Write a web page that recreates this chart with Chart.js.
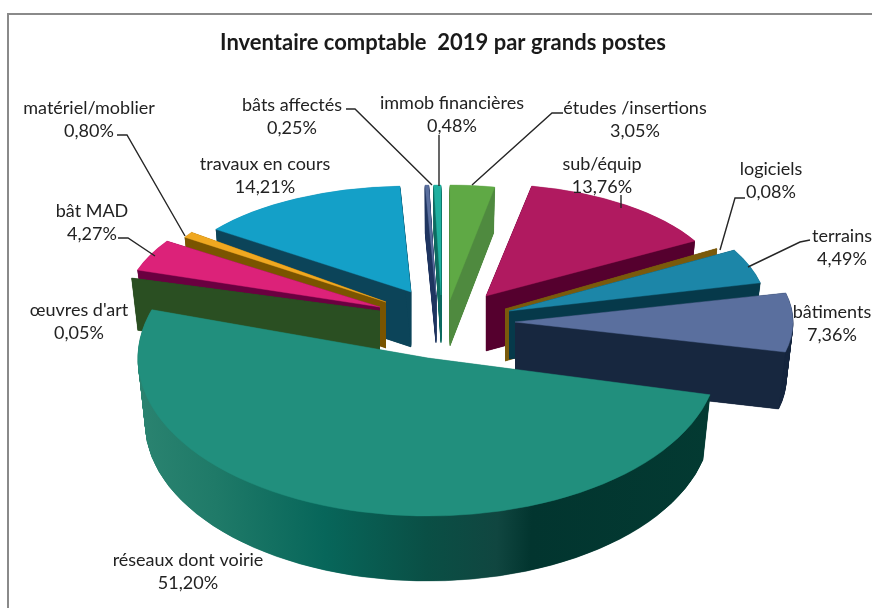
<!DOCTYPE html>
<html lang="fr">
<head>
<meta charset="utf-8">
<title>Inventaire comptable 2019</title>
<script src="https://cdn.jsdelivr.net/npm/chart.js@4"></script>
<style>
  html, body { margin: 0; padding: 0; background: #fff; overflow: hidden; }
  #frame { position: absolute; left: 7px; top: 13px; width: 865px; height: 595px; border-left: 2px solid #8a8a8a; border-top: 2px solid #8a8a8a; box-sizing: border-box; }
  #chart { position: absolute; left: 0; top: 0; }
</style>
</head>
<body>
<div id="frame"></div>
<canvas id="chart" width="872" height="608"></canvas>
<script>
const categories = ['études /insertions', 'sub/équip', 'logiciels', 'terrains', 'bâtiments', 'réseaux dont voirie',
  "œuvres d'art", 'bât MAD', 'matériel/moblier', 'travaux en cours', 'bâts affectés', 'immob financières'];
const shares = [3.05, 13.76, 0.08, 4.49, 7.36, 51.20, 0.05, 4.27, 0.80, 14.21, 0.25, 0.48];

const topColors = ['#5fa945', '#b01a60', '#7a5a0c', '#1c86a8', '#5a6f9e', '#218f7d',
  '#2a4f22', '#dc2279', '#f0a820', '#14a0c8', '#5a6f9e', '#20b0a0'];
const wallColors = ['#4f8a3f', '#55002e', '#7a5a0c', '#06394a', '#17273f', null,
  '#2a4f22', '#6a0040', '#7a5400', '#0c4459', '#1f3560', '#0e6a60'];

// where each exploded slice ends up: apex x/y, radius x/y and thickness
const sliceLayout = [
  [450, 300, 235, 115, 46],
  [486, 296, 240, 112, 55],
  [505, 309, 243, 123, 52],
  [509, 311, 258, 125, 48],
  [515, 322, 278, 129, 57],
  [428, 358, 290, 158, 65],
  [380, 311, 261, 107, 52],
  [380, 307, 255, 120, 44],
  [386, 302, 241, 118, 46],
  [411, 292, 242, 106, 55],
  [436, 295, 240, 110, 48],
  [441, 295, 240, 110, 48],
];
// painter's order, back to front
const drawOrder = [9, 10, 11, 0, 1, 2, 8, 7, 6, 3, 4, 5];
// the bottom of each slice is this much narrower than the top
const taper = 0.025;

// text centres and leader lines
const labelCenters = [[635, 108], [602, 164], [771, 169], [842, 236], [832, 312], [188, 560],
  [79, 310], [92, 211], [89, 108], [265, 164], [292, 105], [452, 103]];
const leaders = [
  [[563, 113], [552, 113], [472, 185]],
  [[621, 195], [621, 208]],
  [[745, 198], [735, 198], [720, 250]],
  [[810, 240], [800, 242], [748, 267]],
  null, null, null,
  [[118, 238], [128, 238], [155, 256]],
  [[117, 135], [127, 135], [185, 236]],
  null,
  [[346, 109], [355, 109], [432, 185]],
  [[439, 135], [439, 186]],
];

function arcOptions(color) {
  return {
    backgroundColor: color, borderColor: color, borderWidth: 0.6, borderAlign: 'center',
    borderJoinStyle: 'bevel', borderRadius: 0, borderDash: [], borderDashOffset: 0,
    offset: 0, spacing: 0, circular: true,
  };
}

// flat side of a slice, from the apex out along one of the arc's own angles
function radialWall(ctx, angle, layout, color) {
  const [cx, cy, rx, ry, depth] = layout;
  const ex = Math.cos(angle);
  const ey = Math.sin(angle);
  ctx.fillStyle = color;
  ctx.beginPath();
  ctx.moveTo(cx, cy);
  ctx.lineTo(cx + ex * rx, cy + ey * ry);
  ctx.lineTo(cx + ex * rx * (1 - taper), cy + ey * ry + depth);
  ctx.lineTo(cx, cy + depth);
  ctx.closePath();
  ctx.fill();
}

const pie3d = {
  id: 'pie3d',
  beforeDatasetsDraw(chart) {
    const ctx = chart.ctx;
    const arcs = chart.getDatasetMeta(0).data;
    drawOrder.forEach((i) => {
      const arc = arcs[i];
      const [cx, cy, rx, ry, depth] = sliceLayout[i];
      const R = arc.outerRadius;
      const place = (dy) => {
        ctx.translate(cx, cy + dy);
        ctx.scale((rx / R) * (1 - taper * dy / depth), ry / R);
        ctx.translate(-arc.x, -arc.y);
      };
      let wall = wallColors[i];
      if (!wall) {
        wall = ctx.createLinearGradient(arc.x - R, 0, arc.x + R, 0);
        wall.addColorStop(0, '#2a8370');
        wall.addColorStop(0.13, '#1f7a68');
        wall.addColorStop(0.32, '#07665a');
        wall.addColorStop(0.5, '#0a4f45');
        wall.addColorStop(0.62, '#104640');
        wall.addColorStop(0.68, '#02352f');
        wall.addColorStop(1, '#033a32');
      }
      const saved = arc.options;
      arc.options = arcOptions(wall);
      for (let k = depth; k > 0; k -= 0.5) {
        ctx.save();
        place(k);
        arc.draw(ctx);
        ctx.restore();
      }
      if (wallColors[i]) {
        radialWall(ctx, arc.startAngle, sliceLayout[i], wall);
        radialWall(ctx, arc.endAngle, sliceLayout[i], wall);
      }
      arc.options = arcOptions(topColors[i]);
      ctx.save();
      place(0);
      arc.draw(ctx);
      ctx.restore();
      arc.options = saved;
    });
    return false;
  },
  afterDraw(chart) {
    const ctx = chart.ctx;
    ctx.save();
    ctx.strokeStyle = '#262626';
    ctx.lineWidth = 1.4;
    leaders.forEach((pts) => {
      if (!pts) return;
      ctx.beginPath();
      pts.forEach((p, n) => (n ? ctx.lineTo(p[0], p[1]) : ctx.moveTo(p[0], p[1])));
      ctx.stroke();
    });
    ctx.fillStyle = '#222';
    ctx.font = '18px Lato';
    ctx.textAlign = 'center';
    ctx.textBaseline = 'middle';
    categories.forEach((name, i) => {
      const [x, y] = labelCenters[i];
      ctx.fillText(name, x, y);
      ctx.fillText(shares[i].toFixed(2).replace('.', ',') + '%', x, y + 23.5);
    });
    ctx.restore();
  },
};

new Chart(document.getElementById('chart'), {
  type: 'pie',
  data: {
    labels: categories,
    datasets: [{ data: shares, backgroundColor: topColors, borderWidth: 0 }],
  },
  options: {
    responsive: false,
    animation: false,
    events: [],
    layout: { padding: { left: 14, top: 0 } },
    plugins: {
      legend: { display: false },
      tooltip: { enabled: false },
      title: {
        display: true,
        text: 'Inventaire comptable  2019 par grands postes',
        color: '#1a1a1a',
        font: { family: 'Lato', size: 22, weight: 'bold' },
        padding: { top: 30, bottom: 10 },
      },
    },
  },
  plugins: [pie3d],
});
</script>
</body>
</html>
